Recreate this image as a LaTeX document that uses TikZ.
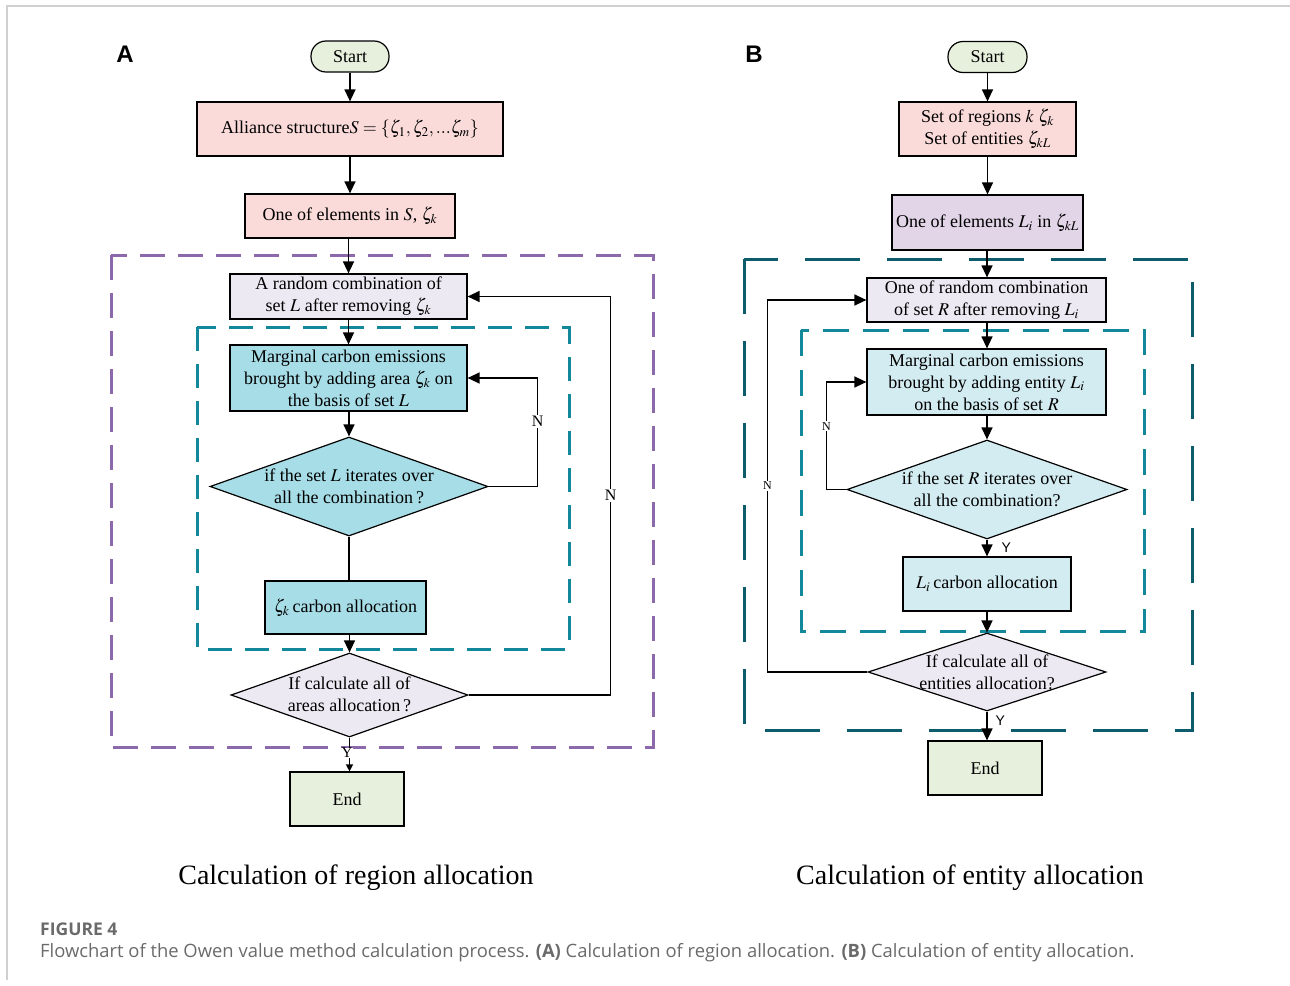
\documentclass[tikz,border=0pt]{standalone}
\usepackage{mathptmx}
\usepackage{fontspec}
\setmainfont{Liberation Serif}
\newfontfamily\capfont{Open Sans}
\newfontfamily\labfont{Liberation Sans}
\usetikzlibrary{shapes.geometric,arrows.meta}
\definecolor{cgreen}{HTML}{E7F0DD}
\definecolor{cpink}{HTML}{FADBDA}
\definecolor{clav}{HTML}{ECE9F2}
\definecolor{clavB}{HTML}{E1D5E7}
\definecolor{ccyanA}{HTML}{A7DDE7}
\definecolor{ccyanB}{HTML}{D3ECF1}
\definecolor{cpurple}{HTML}{8B69AA}
\definecolor{cteal}{HTML}{13889A}
\definecolor{cdteal}{HTML}{0D5C6B}
\definecolor{cframe}{HTML}{D0D0D0}
\definecolor{ccap}{HTML}{6A6A6A}
\tikzset{
  fbox/.style={draw=black, line width=1.2pt, inner sep=0pt, align=center,
    font=\fontsize{18}{22}\selectfont},
  term/.style={fbox, rounded corners=15pt, fill=cgreen},
  dia/.style={draw=black, line width=1.2pt, shape=diamond, inner sep=0pt},
  dtext/.style={inner sep=0pt, align=center, font=\fontsize{18}{22}\selectfont},
  arr/.style={line width=1.3pt, -{Triangle[length=12pt,width=11pt]}},
  sarr/.style={line width=1.3pt, -{Triangle[length=7pt,width=7pt]}},
  plain/.style={line width=1.3pt},
  nlab/.style={fill=white, inner sep=1.5pt, font=\fontsize{16}{16}\selectfont},
  nlabs/.style={fill=white, inner sep=1pt, font=\fontsize{12}{12}\selectfont},
  ylabs/.style={inner sep=0pt, font=\labfont\fontsize{14}{14}\selectfont},
  purpdash/.style={draw=cpurple, line width=3pt, dash pattern=on 25pt off 13pt},
  tealdash/.style={draw=cteal, line width=3pt, dash pattern=on 24pt off 13pt},
  dtealdash/.style={draw=cdteal, line width=3pt, dash pattern=on 55pt off 27pt},
  panel/.style={font=\labfont\bfseries\fontsize{24}{24}\selectfont},
  subcap/.style={font=\fontsize{28}{30}\selectfont}
}
\begin{document}
\begin{tikzpicture}[x=1pt,y=-1pt]
\useasboundingbox (0,0) rectangle (1290,985);
\draw[cframe, line width=1.5pt] (7,980) -- (7,6) -- (1290,6);

% ---------------- Panel A ----------------
\node[panel] (labA) at (125,54) {A};
\draw[purpdash] (111,255) rectangle (653,747);
\draw[tealdash] (197,327) rectangle (569,649);

\node[term, minimum width=78pt, minimum height=31pt] (sA) at (350,56.5) {Start};
\node[fbox, fill=cpink, minimum width=306pt, minimum height=54pt] (alA) at (350,129)
  {Alliance structure$S=\{\zeta_1,\zeta_2,...\zeta_m\}$};
\node[fbox, fill=cpink, minimum width=210pt, minimum height=44pt] (oeA) at (350,216)
  {One of elements in $S$, $\zeta_k$};
\node[fbox, fill=clav, minimum width=237pt, minimum height=45pt] (rcA) at (348.5,296.5)
  {A random combination of\\set $L$ after removing $\zeta_k$};
\node[fbox, fill=ccyanA, minimum width=237pt, minimum height=66pt] (mgA) at (348.5,378)
  {Marginal carbon emissions\\brought by adding area $\zeta_k$ on\\the basis of set $L$};
\node[dia, fill=ccyanA, minimum width=278pt, minimum height=99pt] (d1A) at (349,486.5) {};
\node[dtext] (t1A) at (349,486) {if the set $L$ iterates over\\all the combination\,?};
\node[fbox, fill=ccyanA, minimum width=161pt, minimum height=53pt] (caA) at (345.5,607.5)
  {$\zeta_k$\,carbon allocation};
\node[dia, fill=clav, minimum width=237pt, minimum height=84pt] (d2A) at (349.5,695) {};
\node[dtext] (t2A) at (349.5,694) {If calculate all of\\areas allocation\,?};
\node[fbox, fill=cgreen, minimum width=114pt, minimum height=54pt] (enA) at (347,799) {End};

\draw[arr] (sA) -- (alA);
\draw[arr] (alA) -- (alA.south |- oeA.north);
\draw[arr] (oeA.south -| rcA) -- (rcA.north);
\draw[arr] (rcA) -- (mgA);
\draw[arr] (mgA.south -| d1A) -- (d1A.north);
\draw[plain] (d1A.south) -- (d1A.south |- caA.north);
\draw[arr] (d2A.north |- caA.south) -- (d2A.north);
\draw[arr] (d1A.east) -- ++(49,0) |- node[nlab, pos=0.3] (nA1) {N} (mgA.east);
\draw[arr] (d2A.east) -- ++(142,0) |- node[nlab, pos=0.25] (nA2) {N} (rcA.east);
\draw[sarr] (d2A.south) -- (d2A.south |- enA.north);
\node[fill=white, inner sep=0.5pt, font=\fontsize{15}{15}\selectfont] (yA) at (347,753) {Y};

\node[subcap] (capA) at (356,878) {Calculation of region allocation};

% ---------------- Panel B ----------------
\node[panel] (labB) at (754,54) {B};
\draw[dtealdash] (744,259) rectangle (1192,730);
\draw[tealdash, dash pattern=on 26pt off 14pt] (801,330) rectangle (1144,631);

\node[term, minimum width=79pt, minimum height=31pt] (sB) at (987.5,57) {Start};
\node[fbox, fill=cpink, minimum width=177pt, minimum height=54pt] (stB) at (987.5,129)
  {Set of regions $k$ $\zeta_k$\\Set of entities $\zeta_{kL}$};
\node[fbox, fill=clavB, minimum width=191pt, minimum height=55pt] (oeB) at (987.5,222.5)
  {One of elements $L_i$ in $\zeta_{kL}$};
\node[fbox, fill=clav, minimum width=239pt, minimum height=44pt] (rcB) at (986.5,300)
  {One of random combination\\of set $R$ after removing $L_i$};
\node[fbox, fill=ccyanB, minimum width=239pt, minimum height=66pt] (mgB) at (986.5,382)
  {Marginal carbon emissions\\brought by adding entity $L_i$\\on the basis of set $R$};
\node[dia, fill=ccyanB, minimum width=280pt, minimum height=99pt] (d1B) at (987,489.5) {};
\node[dtext] (t1B) at (987,489) {if the set $R$ iterates over\\all the combination?};
\node[fbox, fill=ccyanB, minimum width=168pt, minimum height=54pt] (caB) at (987,584)
  {$L_i$\,carbon allocation};
\node[dia, fill=clav, minimum width=238pt, minimum height=78pt] (d2B) at (987,672) {};
\node[dtext] (t2B) at (987,672) {If calculate all of\\entities allocation?};
\node[fbox, fill=cgreen, minimum width=114pt, minimum height=54pt] (enB) at (985,768) {End};

\draw[arr] (sB.south -| stB) -- (stB.north);
\draw[arr] (stB) -- (oeB);
\draw[arr] (oeB.south -| d1B) -- (d1B.north |- rcB.north);
\draw[arr] (rcB.south -| d1B) -- (d1B.north |- mgB.north);
\draw[arr] (mgB.south -| d1B) -- (d1B.north);
\draw[arr] (d1B.south) -- node[ylabs, right=14pt] (yB1) {Y} (d1B.south |- caB.north);
\draw[arr] (caB.south -| d2B) -- (d2B.north);
\draw[arr] (d2B.south) -- node[ylabs, right=8pt, pos=0.3] (yB2) {Y} (d2B.south |- enB.north);
\draw[arr] (d1B.west) -- ++(-20,0) |- node[nlabs, pos=0.295] (nB1) {N} (mgB.west);
\draw[arr] (d2B.west) -- ++(-100,0) |- node[nlabs, pos=0.25] (nB2) {N} (rcB.west);

\node[subcap] (capB) at (970,878) {Calculation of entity allocation};

% ---------------- Caption ----------------
\node[anchor=west, inner sep=0pt, text=ccap, font=\capfont\bfseries\fontsize{17.5}{17.5}\selectfont]
  (fig) at (40,929) {FIGURE 4};
\node[anchor=west, inner sep=0pt, text=ccap, font=\capfont\fontsize{18.4}{18.4}\selectfont]
  (figcap) at (40,953) {Flowchart of the Owen value method calculation process. \textbf{(A)} Calculation of region allocation. \textbf{(B)} Calculation of entity allocation.};
\end{tikzpicture}
\end{document}
